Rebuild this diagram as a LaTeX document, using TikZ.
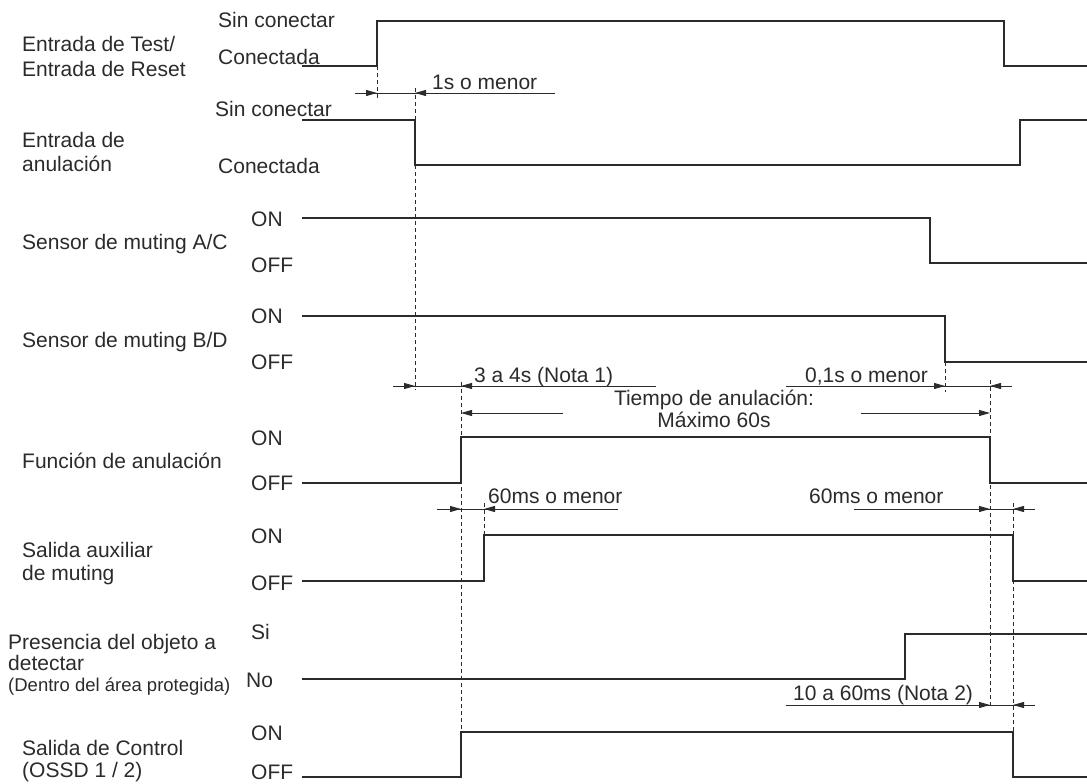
\documentclass[tikz,border=0pt]{standalone}
\usepackage{fontspec}
\setmainfont{Liberation Sans}
\usetikzlibrary{arrows.meta}
\definecolor{ink}{HTML}{2B2B2B}
\begin{document}
\begin{tikzpicture}[x=1pt,y=-1pt,
  sig/.style={draw=ink, line width=1.4pt},
  dim/.style={draw=ink, line width=0.9pt},
  tip/.style={draw=ink, line width=0.9pt, -{Triangle[length=11pt,width=6pt]}},
  guide/.style={draw=ink, line width=0.8pt, dash pattern=on 4pt off 3pt},
  lbl/.style={font=\fontsize{21}{24}\selectfont, text=ink, inner sep=0pt, anchor=base west},
  small/.style={lbl, font=\fontsize{18.5}{21}\selectfont},
  ctr/.style={lbl, anchor=base}]
\useasboundingbox (0,0) rectangle (1087,784);
\fill[white] (0,0) rectangle (1087,784);

% ---- left labels
\node[lbl] (l1a) at (22,52) {Entrada de Test/};
\node[lbl] (l1b) at (22,77) {Entrada de Reset};
\node[lbl] (l2a) at (22,147) {Entrada de};
\node[lbl] (l2b) at (22,171) {anulación};
\node[lbl] (l3) at (22,249) {Sensor de muting A/C};
\node[lbl] (l4) at (22,347) {Sensor de muting B/D};
\node[lbl] (l5) at (22,468) {Función de anulación};
\node[lbl] (l6a) at (22,557) {Salida auxiliar};
\node[lbl] (l6b) at (22,580) {de muting};
\node[lbl] (l7a) at (8,649) {Presencia del objeto a};
\node[lbl] (l7b) at (8,670) {detectar};
\node[small] (l7c) at (8,691) {(Dentro del área protegida)};
\node[lbl] (l8a) at (22,755) {Salida de Control};
\node[lbl] (l8b) at (22,777) {(OSSD 1 / 2)};

% ---- level labels
\node[lbl] (s1h) at (218,28) {Sin conectar};
\node[lbl] (s1l) at (218,64) {Conectada};
\node[lbl] (s2h) at (215,116) {Sin conectar};
\node[lbl] (s2l) at (218,173) {Conectada};
\node[lbl] (s3h) at (251,226) {ON};
\node[lbl] (s3l) at (251,272) {OFF};
\node[lbl] (s4h) at (251,323) {ON};
\node[lbl] (s4l) at (251,369) {OFF};
\node[lbl] (s5h) at (251,445) {ON};
\node[lbl] (s5l) at (251,490) {OFF};
\node[lbl] (s6h) at (251,543) {ON};
\node[lbl] (s6l) at (251,590) {OFF};
\node[lbl] (s7h) at (251,639) {Si};
\node[lbl] (s7l) at (246,687) {No};
\node[lbl] (s8h) at (251,740) {ON};
\node[lbl] (s8l) at (251,779) {OFF};

% ---- waveforms
\draw[sig] (302,66) -- (377,66) -- (377,21) -- (1004,21) -- (1004,66) -- (1087,66);
\draw[sig] (302,120) -- (415,120) -- (415,165) -- (1020,165) -- (1020,120) -- (1087,120);
\draw[sig] (302,218) -- (930,218) -- (930,263) -- (1087,263);
\draw[sig] (302,316) -- (945,316) -- (945,362) -- (1087,362);
\draw[sig] (302,483) -- (461,483) -- (461,437) -- (990,437) -- (990,483) -- (1087,483);
\draw[sig] (302,581) -- (484,581) -- (484,535) -- (1013,535) -- (1013,581) -- (1087,581);
\draw[sig] (302,679) -- (905,679) -- (905,634) -- (1087,634);
\draw[sig] (302,777) -- (461,777) -- (461,732) -- (1013,732) -- (1013,777) -- (1087,777);

% ---- dashed guides
\draw[guide] (377,66) -- (377,100);
\draw[guide] (415,88) -- (415,390);
\draw[guide] (945,362) -- (945,392);
\draw[guide] (990,380) -- (990,708);
\draw[guide] (461,382) -- (461,732);
\draw[guide] (484,503) -- (484,535);
\draw[guide] (1013,503) -- (1013,732);

% ---- dimension: 1s o menor
\node[lbl] (d1) at (432,89) {1s o menor};
\draw[dim] (355,93) -- (555,93);
\draw[tip] (355,93) -- (377,93);
\draw[tip] (555,93) -- (415,93);

% ---- dimension: 3 a 4s
\node[lbl] (d2) at (474,382) {3 a 4s (Nota 1)};
\draw[dim] (393,386) -- (656,386);
\draw[tip] (393,386) -- (415,386);
\draw[tip] (656,386) -- (461,386);

% ---- dimension: 0,1s
\node[lbl] (d3) at (805,382) {0,1s o menor};
\draw[dim] (786,386) -- (1012,386);
\draw[tip] (786,386) -- (945,386);
\draw[tip] (1012,386) -- (990,386);

% ---- Tiempo de anulacion
\node[ctr] (d4a) at (714,405) {Tiempo de anulación:};
\node[ctr] (d4b) at (714,427) {Máximo 60s};
\draw[tip] (563,413) -- (461,413);
\draw[tip] (861,413) -- (990,413);

% ---- 60ms left
\node[lbl] (d5) at (488,503) {60ms o menor};
\draw[dim] (437,509) -- (618,509);
\draw[tip] (437,509) -- (461,509);
\draw[tip] (618,509) -- (484,509);

% ---- 60ms right
\node[lbl] (d6) at (809,503) {60ms o menor};
\draw[dim] (854,509) -- (1035,509);
\draw[tip] (854,509) -- (990,509);
\draw[tip] (1035,509) -- (1013,509);

% ---- 10 a 60ms
\node[lbl] (d7) at (793,700) {10 a 60ms (Nota 2)};
\draw[dim] (786,705) -- (1035,705);
\draw[tip] (786,705) -- (990,705);
\draw[tip] (1035,705) -- (1013,705);
\end{tikzpicture}
\end{document}
